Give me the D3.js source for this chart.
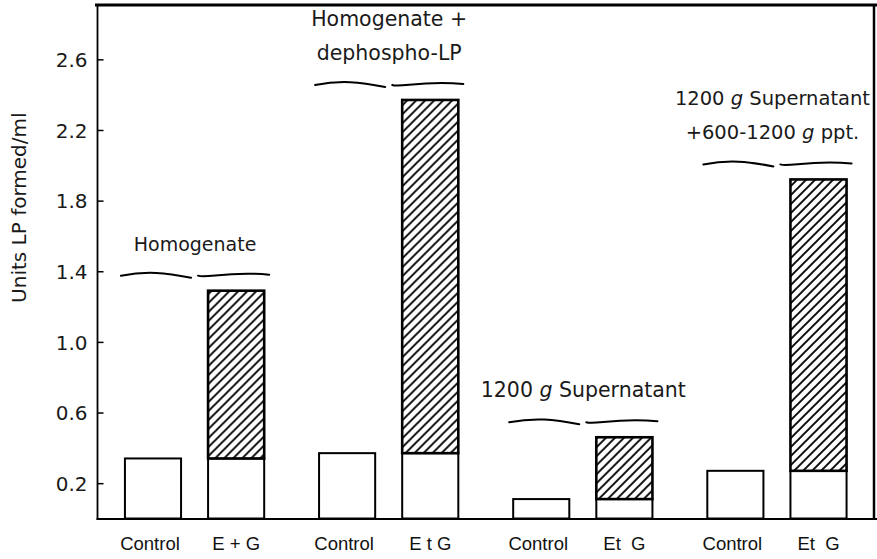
<!DOCTYPE html>
<html>
<head>
<meta charset="utf-8">
<script src="https://cdn.jsdelivr.net/npm/d3@7"></script>
<style>
  html, body { margin: 0; padding: 0; background: #fff; }
  svg { display: block; }
</style>
</head>
<body>
<svg id="chart" width="877" height="559"></svg>
<script>
// ---- data ----
const groupKeys = ["g1", "g2", "g3", "g4"];
const groupTitles = [
  [["Homogenate"]],
  [["Homogenate +"], ["dephospho-LP"]],
  [["1200 ", "g", " Supernatant"]],
  [["1200 ", "g", " Supernatant"], ["+600-1200 ", "g", " ppt."]]
];
const controlValues = [0.34, 0.37, 0.11, 0.27];
const treatedValues = [1.29, 2.37, 0.46, 1.92];
const controlLabels = ["Control", "Control", "Control", "Control"];
const treatedLabels = ["E + G", "E t G", "Et  G", "Et  G"];
const yTicks = [0.2, 0.6, 1.0, 1.4, 1.8, 2.2, 2.6];
const yTitle = "Units LP formed/ml";

// ---- layout / style ----
const titleSizes = [19, 20.5, 20.5, 19.5];
const titleShift = [0, 0, 0, -5];
const svg = d3.select("#chart");
const pLeft = 97.5, pRight = 874, pBottom = 518.5, pTop = 6;
const numFont = "'DejaVu Sans', sans-serif";
const lblFont = "'Liberation Sans', Arial, sans-serif";

const x0 = d3.scaleBand().domain(groupKeys).range([pLeft, pRight]).paddingInner(0).paddingOuter(0);
const x1 = d3.scaleBand().domain(["control", "treated"]).range([0, x0.bandwidth()])
  .paddingInner(0.325).paddingOuter(0.33);
const y = d3.scaleLinear().domain([0, 2.9]).range([pBottom, pBottom - 2.9 * 176.6]);

// hatch pattern
const defs = svg.append("defs");
const pat = defs.append("pattern").attr("id", "hatch").attr("patternUnits", "userSpaceOnUse")
  .attr("width", 9).attr("height", 9);
pat.append("rect").attr("width", 9).attr("height", 9).attr("fill", "#fff");
pat.append("path").attr("d", "M-1,1 L1,-1 M0,9 L9,0 M8,10 L10,8")
  .attr("stroke", "#000").attr("stroke-width", 1.9);

// frame
svg.append("line").attr("x1", 95).attr("x2", 877).attr("y1", 5).attr("y2", 5)
  .attr("stroke", "#000").attr("stroke-width", 3);
svg.append("line").attr("x1", pRight).attr("x2", pRight).attr("y1", 4).attr("y2", pBottom + 1)
  .attr("stroke", "#000").attr("stroke-width", 2.5);
svg.append("line").attr("x1", pLeft - 1).attr("x2", 877).attr("y1", pBottom + 0.5).attr("y2", pBottom + 0.5)
  .attr("stroke", "#000").attr("stroke-width", 2);

// y axis
const yAxis = svg.append("g").attr("transform", `translate(${pLeft},0)`)
  .call(d3.axisLeft(y).tickValues(yTicks).tickSize(-6).tickPadding(10)
    .tickFormat(d3.format(".1f")));
yAxis.select(".domain").attr("d", `M0,${pTop}V${pBottom + 1}`).attr("stroke", "#000").attr("stroke-width", 1.8);
yAxis.selectAll(".tick line").attr("stroke", "#000").attr("stroke-width", 1.5);
yAxis.selectAll(".tick text").attr("font-family", numFont).attr("font-size", 20)
  .attr("fill", "#1a1a1a").attr("dy", "0.36em");

// y title
svg.append("text").attr("transform", `translate(26,${y(1.76)}) rotate(-90)`)
  .attr("text-anchor", "middle").attr("font-family", numFont).attr("font-size", 20)
  .attr("fill", "#1a1a1a").text(yTitle);

// bars
const gs = svg.append("g").selectAll("g").data(groupKeys).join("g")
  .attr("transform", d => `translate(${x0(d)},0)`);

gs.append("rect").attr("class", "control")
  .attr("x", x1("control")).attr("width", x1.bandwidth())
  .attr("y", (d, i) => y(controlValues[i])).attr("height", (d, i) => y(0) - y(controlValues[i]))
  .attr("fill", "#fff").attr("stroke", "#000").attr("stroke-width", 2);

gs.append("rect").attr("class", "base")
  .attr("x", x1("treated")).attr("width", x1.bandwidth())
  .attr("y", (d, i) => y(controlValues[i])).attr("height", (d, i) => y(0) - y(controlValues[i]))
  .attr("fill", "#fff").attr("stroke", "#000").attr("stroke-width", 2);

gs.append("rect").attr("class", "hatched")
  .attr("x", x1("treated")).attr("width", x1.bandwidth())
  .attr("y", (d, i) => y(treatedValues[i])).attr("height", (d, i) => y(controlValues[i]) - y(treatedValues[i]))
  .attr("fill", "url(#hatch)").attr("stroke", "#000").attr("stroke-width", 2.6);

// x labels
gs.append("text").attr("x", x1("control") + x1.bandwidth() / 2 - 3).attr("y", 550)
  .attr("text-anchor", "middle").attr("font-family", lblFont).attr("font-size", 18.5)
  .attr("fill", "#111").text((d, i) => controlLabels[i]);
gs.append("text").attr("x", x1("treated") + x1.bandwidth() / 2).attr("y", 550)
  .attr("text-anchor", "middle").attr("font-family", lblFont).attr("font-size", 18.5)
  .attr("fill", "#111").style("white-space", "pre").attr("xml:space", "preserve")
  .text((d, i) => treatedLabels[i]);

// braces
gs.each(function (d, i) {
  const g = d3.select(this);
  const xa = x1("control") - 4, xb = x1("treated") + x1.bandwidth() + 5;
  const xm = (xa + xb) / 2;
  const by = y(treatedValues[i]) - 16;
  const w = (xb - xa) / 2;
  const p = d3.path();
  p.moveTo(xa, by + 1);
  p.bezierCurveTo(xa + w * 0.35, by - 4, xa + w * 0.6, by - 2, xm - 4, by + 3);
  p.moveTo(xm + 3, by + 1);
  p.bezierCurveTo(xm + w * 0.15, by + 4, xm + w * 0.45, by - 4, xb, by);
  g.append("path").attr("d", p.toString()).attr("fill", "none")
    .attr("stroke", "#000").attr("stroke-width", 2).attr("stroke-linecap", "round");

  const lines = groupTitles[i];
  const lh = 34;
  lines.forEach((parts, j) => {
    const t = g.append("text").attr("x", xm + titleShift[i]).attr("y", by - 24 - (lines.length - 1 - j) * lh)
      .attr("text-anchor", "middle").attr("font-family", numFont).attr("font-size", titleSizes[i])
      .attr("fill", "#1a1a1a").attr("xml:space", "preserve");
    parts.forEach(s => {
      t.append("tspan").attr("font-style", s === "g" ? "italic" : "normal").text(s);
    });
  });
});
</script>
</body>
</html>
